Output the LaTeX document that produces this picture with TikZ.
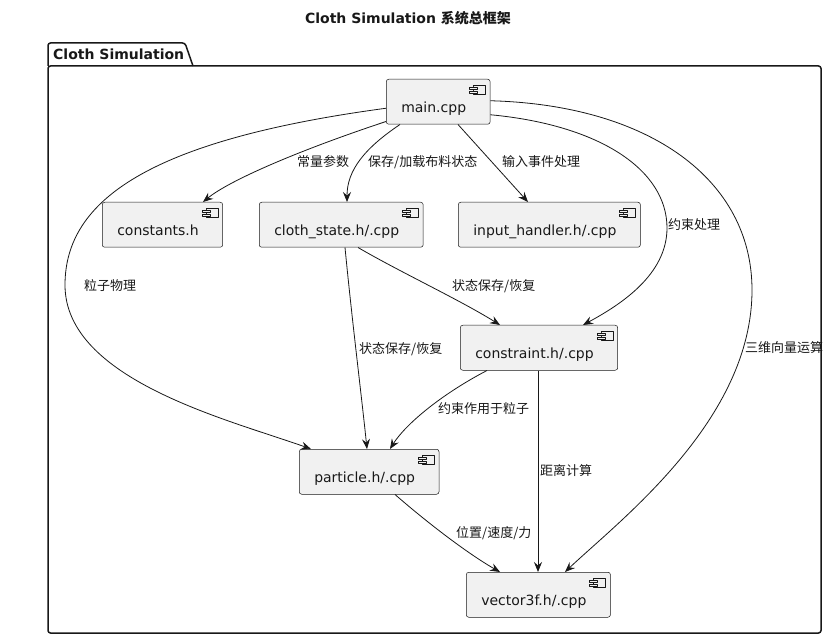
\documentclass[tikz,border=0pt]{standalone}
\usepackage{fontspec}
\setmainfont{DejaVu Sans}
\newfontfamily\cjk{Noto Sans CJK SC}
\usetikzlibrary{arrows.meta,calc}
\definecolor{compfill}{HTML}{F1F1F1}
\definecolor{ink}{HTML}{181818}
\tikzset{
	comp/.style={draw=ink,fill=compfill,line width=.5pt,rounded corners=2.5pt,anchor=north west,inner xsep=15pt,inner ysep=10pt,text height=23pt,text depth=2pt,font=\fontsize{14}{16}\selectfont,execute at end node={\hspace{9pt}}},
	lbl/.style={anchor=west,inner sep=0pt,font=\fontsize{13}{15}\selectfont\cjk},
	icon/.style={draw=ink,fill=compfill,line width=.5pt},
	dep/.style={->,draw=ink,line width=.8pt}
}
\begin{document}
\begin{tikzpicture}[x=1pt,y=-1pt,>={Stealth[length=10pt,width=8pt,inset=3.5pt]},line join=round,text=ink]
	\useasboundingbox (0,0) rectangle (828,639);
	\node[font=\bfseries\fontsize{14}{16}\selectfont] (title) at (408,18) {Cloth Simulation {\cjk 系统总框架}};
	
	% package
	\draw[ink,line width=1.5pt,rounded corners=2.5pt] (48,66)--(48,43)--(185,43)--(193,66);
	\draw[ink,line width=1.5pt,rounded corners=2.5pt] (48,66) rectangle (821,633);
	\node[anchor=west,inner sep=0pt,font=\bfseries\fontsize{14}{16}\selectfont] (pkg) at (53,54) {Cloth Simulation};
	
	\node[comp] (main) at (386,79) {main.cpp};
	\node[comp] (consts) at (102,202) {constants.h};
	\node[comp] (state) at (259,202) {cloth\_state.h/.cpp};
	\node[comp] (input) at (458,202) {input\_handler.h/.cpp};
	\node[comp] (constr) at (460,325) {constraint.h/.cpp};
	\node[comp] (particle) at (299,449) {particle.h/.cpp};
	\node[comp] (vec) at (466,572) {vector3f.h/.cpp};
	\foreach \n in {main,consts,state,input,constr,particle,vec}{
		\draw[icon] ($(\n.north east)+(-17,6)$) rectangle ++(12,9);
		\draw[icon] ($(\n.north east)+(-21,8)$) rectangle ++(8,2.5)
		($(\n.north east)+(-21,12)$) rectangle ++(8,2.5);
	}
	
	\draw[dep] ($(main.south west)+(0,-3)$) .. controls (300,150) and (230,180) .. ($(consts.north west)+(101,0)$);
	\draw[dep] ($(main.south west)+(14,0)$) .. controls (365,148) and (347,170) .. ($(state.north west)+(88,0)$);
	\draw[dep] ($(main.south west)+(72,0)$) -- ($(input.north west)+(70,0)$);
	\draw[dep] ($(main.west)+(0,6.5)$) .. controls (150,140) and (65,200) .. (65,285) .. controls (65,380) and (230,420) .. ($(particle.north west)+(12,0)$);
	\draw[dep] ($(main.east)+(0,13)$) .. controls (600,125) and (667,170) .. (667,228) .. controls (667,275) and (620,305) .. ($(constr.north west)+(123,0)$);
	\draw[dep] ($(main.east)+(0,-1)$) .. controls (650,105) and (752,180) .. (752,290) .. controls (752,420) and (620,520) .. ($(vec.north west)+(99,0)$);
	\draw[dep] ($(state.south west)+(99,0)$) .. controls (400,272) and (460,300) .. ($(constr.north west)+(40,0)$);
	\draw[dep] ($(state.south west)+(86,0)$) .. controls (352,320) and (362,400) .. ($(particle.north west)+(68,0)$);
	\draw[dep] ($(constr.south west)+(27,0)$) .. controls (440,395) and (405,425) .. ($(particle.north west)+(91,0)$);
	\draw[dep] ($(constr.south west)+(78,0)$) -- ($(vec.north west)+(72,0)$);
	\draw[dep] ($(particle.south west)+(96,0)$) .. controls (430,525) and (470,555) .. ($(vec.north west)+(34,0)$);
	
	\node[lbl] (l1) at (297,162) {常量参数};
	\node[lbl] (l2) at (368,162) {保存/加载布料状态};
	\node[lbl] (l3) at (502,162) {输入事件处理};
	\node[lbl] (l4) at (668,225) {约束处理};
	\node[lbl] (l5) at (84,286) {粒子物理};
	\node[lbl] (l6) at (452,286) {状态保存/恢复};
	\node[lbl] (l7) at (359,349) {状态保存/恢复};
	\node[lbl] (l8) at (745,348) {三维向量运算};
	\node[lbl] (l9) at (438,409) {约束作用于粒子};
	\node[lbl] (l10) at (540,471) {距离计算};
	\node[lbl] (l11) at (456,533) {位置/速度/力};
\end{tikzpicture}
\end{document}
